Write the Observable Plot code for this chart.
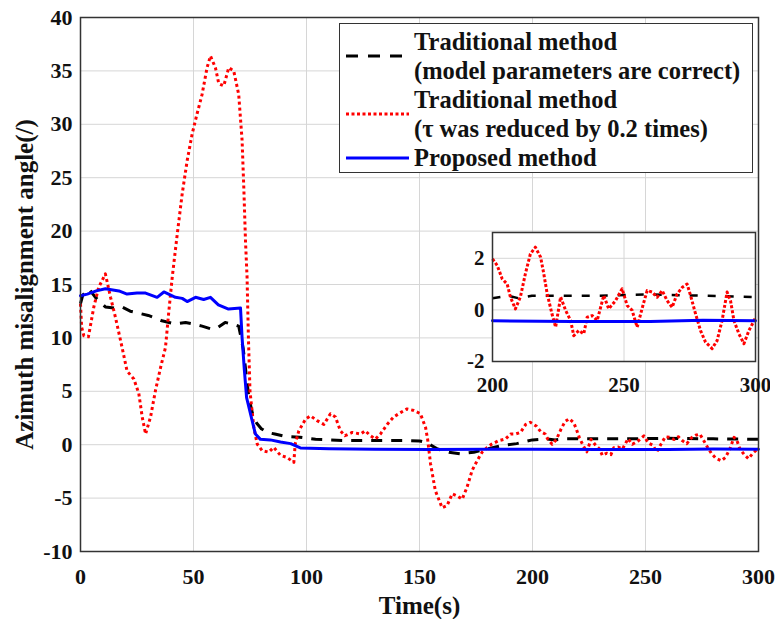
<!DOCTYPE html>
<html>
<head>
<meta charset="utf-8">
<script src="https://cdn.jsdelivr.net/npm/d3@7"></script>
<script src="https://cdn.jsdelivr.net/npm/@observablehq/plot@0.6"></script>
<style>
  html, body { margin: 0; padding: 0; background: #fff; }
  #wrap { position: relative; width: 779px; height: 619px; overflow: hidden; font-family: "Liberation Serif", "Tinos", "Times New Roman", "Times", "DejaVu Serif", "Noto Serif", serif; font-weight: bold; }
  #inset { position: absolute; left: 440px; top: 222px; }
  #legend { position: absolute; left: 339px; top: 23px; width: 412px; height: 148px; border: 1.5px solid #333; background: #fff; }
  #legend svg { position: absolute; left: 0; top: 0; }
  #legend .txt { position: absolute; left: 74px; top: 3px; font-size: 24.5px; line-height: 29px; color: #111; white-space: nowrap; }
</style>
</head>
<body>
<div id="wrap">
  <div id="main"></div>
  <div id="inset"></div>
  <div id="legend">
    <svg width="72" height="148">
      <line x1="6" x2="69" y1="32" y2="32" stroke="#000" stroke-width="3" stroke-dasharray="12,10"></line>
      <line x1="6" x2="69" y1="90" y2="90" stroke="#ff0000" stroke-width="3" stroke-dasharray="3,2.5"></line>
      <line x1="6" x2="69" y1="134" y2="134" stroke="#0000ff" stroke-width="3"></line>
    </svg>
    <div class="txt" id="legtxt"></div>
  </div>
</div>
<script>
// ---- data ----
const xTicks = [0, 50, 100, 150, 200, 250, 300];
const yTicks = [-10, -5, 0, 5, 10, 15, 20, 25, 30, 35, 40];
const insetXTicks = [200, 250, 300];
const insetYTicks = [-2, 0, 2];
const legendLabels = [
  "Traditional method",
  "(model parameters are correct)",
  "Traditional method",
  "(τ was reduced by 0.2 times)",
  "Proposed method"
];
const xLabel = "Time(s)";
const yLabel = "Azimuth misalignment angle(/)";

// Traditional method (model parameters are correct) — black dashed
const blackT = [0, 1, 3.7, 6.6, 11, 15, 18.4, 22, 26, 30, 36, 42, 46.5, 50, 53.8, 58.3, 61, 64, 67, 70, 72, 74.5, 76, 78, 80, 82.6, 86, 90, 97, 104, 116, 129, 144, 150, 153, 158, 163, 168, 174, 180, 186, 193, 200, 206, 210, 215, 224, 240, 260, 280, 300];
const blackV = [13.2, 14.0, 14.6, 13.8, 12.9, 12.8, 12.9, 12.5, 12.3, 12.1, 11.6, 11.3, 11.45, 11.3, 11.1, 10.8, 11.0, 11.45, 11.3, 11.1, 9.0, 4.4, 3.0, 2.0, 1.5, 1.15, 1.0, 0.8, 0.7, 0.5, 0.4, 0.4, 0.4, 0.35, 0.2, -0.4, -0.7, -0.85, -0.7, -0.4, -0.1, 0.1, 0.45, 0.55, 0.45, 0.55, 0.55, 0.55, 0.6, 0.55, 0.5];

// Traditional method (tau reduced by 0.2 times) — red dotted
const redT = [0, 0.5, 1.5, 3.5, 5.9, 8, 11, 13.3, 15.5, 18.4, 20.6, 23.6, 25.8, 27.3, 28.8, 31, 33.2, 35.4, 37.6, 39, 40.6, 42.8, 45, 47.2, 49.4, 51.6, 53.8, 56, 57.5, 59.7, 61.2, 63.4, 65.6, 67.8, 70, 71.5, 72.3, 73, 73.7, 74.3, 75, 76.7, 78.2, 80.4, 83.3, 85.5, 88.5, 91.4, 94.4, 95, 96.6, 99.6, 101.8, 104.7, 107.7, 110.6, 112.8, 115, 117, 120.2, 124, 126, 128.3, 130.5, 132.7, 135.7, 138.6, 141.6, 144.5, 147.5, 150.4, 152.7, 153.6, 154.9, 157, 160, 162.2, 164.5, 166.7, 168.9, 171, 173.3, 175.5, 177.7, 180, 182, 185, 188, 190.3, 192.5, 194.7, 197, 199, 200, 201.8, 203.7, 205.6, 206.8, 208.7, 210.6, 212.5, 214.4, 216.3, 218.3, 219.5, 220.8, 222.6, 224, 225.9, 227.8, 229.7, 230.9, 232.8, 234.7, 236, 237.9, 239.8, 242.3, 244.2, 246.8, 249.3, 251.2, 253.1, 255, 257, 258.8, 260.7, 262.6, 264.5, 266.4, 268.3, 270.2, 272.2, 274, 275.3, 277.2, 279.1, 281, 283.5, 285.4, 287.3, 289.2, 290.5, 291.8, 293.7, 295.6, 297.5, 299.5, 300];
const redV = [13.2, 11.0, 10.2, 10.1, 12.9, 14.7, 16.0, 13.8, 11.9, 9.1, 6.9, 6.15, 4.8, 2.6, 1.0, 2.6, 5.1, 7.2, 9.1, 12.3, 15.7, 19.7, 23.5, 26.6, 29.1, 31.0, 32.8, 35.3, 36.4, 35.3, 33.8, 33.6, 35.3, 35.0, 32.8, 28.5, 23.8, 19.1, 15.7, 10.0, 5.0, 1.6, 0.06, -0.56, -0.7, -0.25, -1.0, -1.2, -1.65, 0.06, 1.3, 2.4, 2.7, 2.25, 1.9, 2.9, 2.6, 1.3, 0.84, 1.15, 1.0, 1.3, 0.84, 0.53, 1.0, 1.9, 2.6, 3.0, 3.35, 3.2, 2.9, 1.6, 0.5, -1.8, -4.3, -5.9, -5.7, -4.6, -4.8, -5.1, -4.0, -2.4, -1.5, -0.7, -0.25, 0.06, 0.37, 0.53, 1.0, 1.0, 1.15, 1.9, 2.1, 1.98, 1.72, 1.2, 1.0, 0.5, 0.04, 0.5, 1.4, 2.17, 2.43, 2.04, 1.4, 0.62, -0.15, -0.67, 0.5, -0.02, -0.41, -1.0, -0.8, -0.93, -0.28, -0.22, -0.41, 0.56, 0.04, 0.36, 0.82, 0.17, -0.02, -0.67, 0.1, 0.75, 0.69, 0.49, 0.75, 0.36, 0.1, 0.62, 0.88, 1.0, 0.56, -0.15, -0.8, -1.25, -1.5, -1.19, -0.41, 0.69, 0.36, -0.41, -0.93, -1.31, -0.8, -0.41, -0.3];

// Proposed method — blue solid
const blueT = [0, 3, 7, 11, 17, 20.6, 25, 28.8, 33.9, 36.9, 42, 45, 47.2, 50.9, 54.5, 57.5, 61, 65.5, 70.8, 71.5, 72.5, 73.5, 75.2, 77.4, 79.6, 84, 88.5, 93, 97.3, 110, 130, 155, 180, 200, 230, 260, 280, 300];
const blueV = [13.95, 14.1, 14.4, 14.6, 14.4, 14.1, 14.2, 14.2, 13.8, 14.3, 13.8, 13.7, 13.4, 13.8, 13.6, 13.8, 13.1, 12.7, 12.8, 10.0, 7.0, 4.4, 2.9, 1.0, 0.5, 0.45, 0.25, 0.1, -0.3, -0.38, -0.42, -0.45, -0.42, -0.42, -0.45, -0.45, -0.4, -0.42];

const zip = (ts, vs) => ts.map((t, i) => ({t, v: vs[i]}));
const black = zip(blackT, blackV);
const red = zip(redT, redV);
const blue = zip(blueT, blueV);

const fam = "'Liberation Serif', Tinos, 'Times New Roman', Times, 'DejaVu Serif', 'Noto Serif', serif";
const font = {fontFamily: fam, fontWeight: "bold", color: "#111", background: "transparent"};
const gridStroke = "#d6d6d6";
const fmt = d => String(d);

const main = Plot.plot({
  width: 779, height: 619,
  marginLeft: 80, marginRight: 21, marginTop: 17, marginBottom: 68,
  x: {domain: [0, 300]},
  y: {domain: [-10, 40]},
  style: {...font, fontSize: "22px"},
  marks: [
    Plot.gridX(xTicks, {stroke: gridStroke, strokeOpacity: 1}),
    Plot.gridY(yTicks, {stroke: gridStroke, strokeOpacity: 1}),
    Plot.axisX({ticks: xTicks, tickFormat: fmt, tickSize: 0, tickPadding: 17, label: null, fontSize: 22}),
    Plot.axisY({ticks: yTicks, tickFormat: fmt, tickSize: 0, tickPadding: 8, label: null, fontSize: 22}),
    Plot.line(black, {x: "t", y: "v", stroke: "#000", strokeWidth: 3, strokeDasharray: "11,9", strokeLinecap: "butt"}),
    Plot.line(red, {x: "t", y: "v", stroke: "#ff0000", strokeWidth: 3, strokeDasharray: "3,3", strokeLinecap: "butt"}),
    Plot.line(blue, {x: "t", y: "v", stroke: "#0000ff", strokeWidth: 3}),
    Plot.frame({stroke: "#333", strokeWidth: 1.5}),
    Plot.text([xLabel], {frameAnchor: "bottom", dy: 54, lineAnchor: "middle", textAnchor: "middle", fontSize: 25, fontWeight: "bold", fill: "#111"}),
    Plot.text([yLabel], {frameAnchor: "left", dx: -56, rotate: -90, lineAnchor: "middle", textAnchor: "middle", fontSize: 25, fontWeight: "bold", fill: "#111"})
  ]
});
document.getElementById("main").append(main);

const inset = Plot.plot({
  width: 330, height: 180,
  marginLeft: 52, marginRight: 15, marginTop: 10, marginBottom: 41,
  x: {domain: [200, 300]},
  y: {domain: [-2, 3]},
  style: {...font, fontSize: "20px"},
  marks: [
    Plot.frame({fill: "#fff"}),
    Plot.gridX([250], {stroke: gridStroke, strokeOpacity: 1}),
    Plot.gridY([0, 2], {stroke: gridStroke, strokeOpacity: 1}),
    Plot.axisX({ticks: insetXTicks, tickFormat: fmt, tickSize: 0, tickPadding: 16, label: null, fontSize: 21}),
    Plot.axisY({ticks: insetYTicks, tickFormat: fmt, tickSize: 0, tickPadding: 8, label: null, fontSize: 21}),
    Plot.line(black, {x: "t", y: "v", filter: d => d.t >= 200, stroke: "#000", strokeWidth: 2.5, strokeDasharray: "8,10", strokeLinecap: "butt"}),
    Plot.line(red, {x: "t", y: "v", filter: d => d.t >= 200, stroke: "#ff0000", strokeWidth: 3, strokeDasharray: "3,2", strokeLinecap: "butt"}),
    Plot.line(blue, {x: "t", y: "v", filter: d => d.t >= 200, stroke: "#0000ff", strokeWidth: 3}),
    Plot.frame({stroke: "#333", strokeWidth: 1.5})
  ]
});
document.getElementById("inset").append(inset);

document.getElementById("legtxt").innerHTML = legendLabels.map(s => `<div>${s}</div>`).join("");
</script>
</body>
</html>
